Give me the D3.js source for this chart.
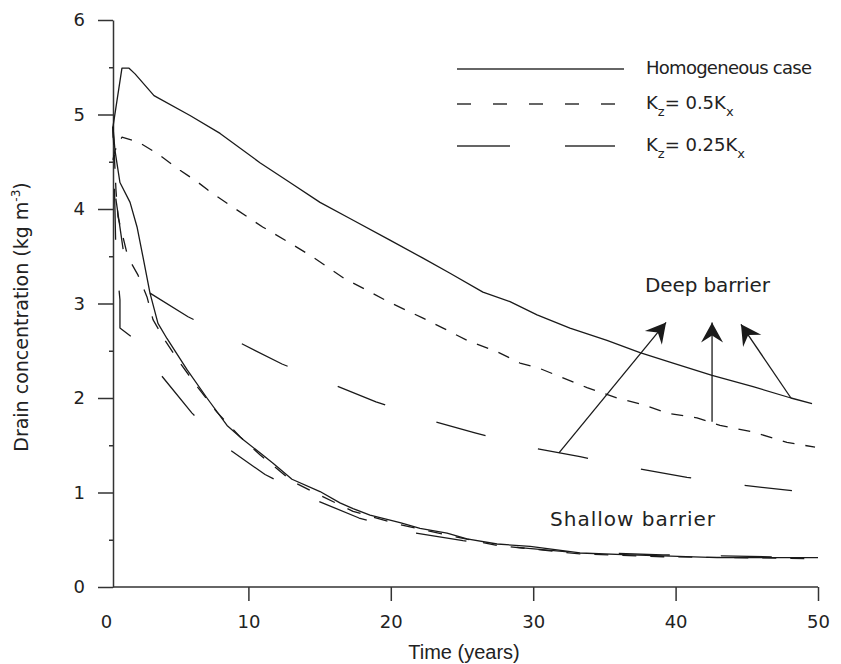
<!DOCTYPE html>
<html>
<head>
<meta charset="utf-8">
<script src="https://cdn.jsdelivr.net/npm/d3@7"></script>
<style>
  body { margin: 0; background: #fff; }
  svg { display: block; }
</style>
</head>
<body>
<div id="chart"></div>
<script>
// time (years), drain concentration (kg m-3)
const deepHomogeneous = [[0.49,4.87],[1.12,5.49],[1.62,5.49],[2.04,5.43],[3.37,5.20],[5.90,4.99],[8.01,4.80],[10.81,4.49],[12.92,4.28],[15.03,4.07],[17.13,3.90],[19.94,3.67],[22.26,3.48],[24.16,3.32],[26.47,3.12],[28.37,3.02],[30.27,2.88],[32.58,2.74],[35.18,2.61],[37.50,2.48],[39.82,2.37],[42.56,2.24],[45.44,2.12],[48.10,2.00],[49.58,1.94]];
const deepHalf = [[0.49,4.52],[0.63,4.62],[1.12,4.76],[2.25,4.71],[3.58,4.59],[5.20,4.41],[6.39,4.29],[7.16,4.20],[8.50,4.06],[11.0,3.81],[12.92,3.64],[14.54,3.49],[16.78,3.26],[18.33,3.14],[19.80,3.02],[22.19,2.85],[23.67,2.74],[25.35,2.61],[27.46,2.49],[29.07,2.37],[30.34,2.32],[33.78,2.11],[35.88,2.00],[37.71,1.93],[39.40,1.84],[41.50,1.79],[43.12,1.71],[45.44,1.64],[47.82,1.53],[49.79,1.48]];
const deepQuarter = [[0.49,4.87],[0.70,4.10],[1.33,3.44],[2.04,3.23],[3.09,3.11],[5.76,2.86],[9.06,2.61],[12.36,2.36],[15.66,2.16],[18.96,1.96],[22.61,1.77],[25.91,1.63],[29.70,1.48],[33.29,1.38],[37.08,1.26],[40.80,1.16],[44.52,1.08],[48.17,1.02]];
const shallowHomogeneous = [[0.49,4.87],[0.63,4.62],[0.98,4.28],[1.69,4.07],[2.18,3.81],[2.60,3.49],[3.09,3.11],[3.65,2.79],[4.28,2.63],[5.69,2.30],[7.09,2.00],[8.50,1.71],[9.62,1.56],[10.81,1.42],[11.73,1.31],[13.06,1.14],[15.03,1.01],[16.43,0.89],[17.35,0.83],[18.54,0.76],[20.65,0.68],[22.05,0.62],[23.95,0.57],[25.35,0.51],[27.46,0.455],[29.78,0.43],[33.29,0.36],[36.80,0.34],[39.12,0.33],[42.91,0.31],[50,0.31]];
const shallowHalf = [[0.49,4.87],[0.70,4.20],[0.84,3.92],[1.54,3.49],[2.25,3.30],[2.88,3.07],[3.30,2.83],[4.14,2.61],[5.20,2.37],[6.46,2.11],[7.79,1.85],[9.41,1.59],[10.81,1.40],[13.06,1.12],[15.03,0.97],[17.35,0.80],[20.65,0.66],[23.95,0.55],[27.46,0.44],[33.29,0.35],[39.12,0.32],[50,0.30]];
const shallowQuarter = [[0.49,4.87],[0.63,3.99],[0.70,3.49],[0.98,3.04],[0.98,2.74],[2.04,2.62],[3.93,2.23],[6.04,1.84],[8.43,1.48],[11.17,1.19],[14.40,0.94],[17.77,0.73],[21.35,0.58],[25.07,0.49],[28.86,0.42],[32.58,0.37],[39.12,0.34],[50,0.31]];

const xTicks = [0, 10, 20, 30, 40, 50];
const yTicks = [0, 1, 2, 3, 4, 5, 6];
const yMinorTicks = [0.5, 1.5, 2.5, 3.5, 4.5, 5.5];

// arrows: [from, to] in data units
const arrows = [
  [[31.81, 1.42], [39.33, 2.80]],
  [[42.56, 1.75], [42.56, 2.80]],
  [[48.10, 2.00], [44.59, 2.78]]
];

const width = 841, height = 664;
const font = "'DejaVu Sans', Verdana, sans-serif";
const ink = "#1a1a1a";

const svg = d3.select("#chart").append("svg")
  .attr("width", width)
  .attr("height", height);

const x = d3.scaleLinear().domain([0, 50]).range([106, 818]);
const y = d3.scaleLinear().domain([0, 6]).range([587, 20]);
const axisX = 113;

const line = d3.line()
  .x(d => x(d[0]))
  .y(d => y(d[1]));

// offset so a dash starts at the given vertex
function dashOffset(data, idx, period) {
  const tmp = svg.append("path").attr("d", line(data.slice(0, idx + 1)));
  const len = tmp.node().getTotalLength();
  tmp.remove();
  return (period - (len % period)) % period;
}

// y axis
svg.append("g")
  .attr("transform", `translate(${axisX},0)`)
  .call(d3.axisLeft(y).tickValues(yTicks).tickFormat(d3.format("d"))
    .tickSize(15).tickPadding(13).tickSizeOuter(0));
svg.append("g")
  .attr("transform", `translate(${axisX},0)`)
  .call(d3.axisLeft(y).tickValues(yMinorTicks).tickSize(4).tickFormat("").tickSizeOuter(0))
  .call(g => g.select(".domain").remove());

// x axis
const xAxis = svg.append("g")
  .attr("transform", `translate(0,${y(0)})`)
  .call(d3.axisBottom(x).tickValues(xTicks).tickFormat(d3.format("d"))
    .tickSize(14).tickPadding(14).tickSizeOuter(0));
xAxis.select(".domain").attr("d", `M${axisX},0H${x(50)}`);
xAxis.selectAll(".tick").filter(d => d === 0).select("line").remove();

svg.selectAll(".domain, .tick line")
  .attr("stroke", "#333")
  .attr("stroke-width", 1.5);
svg.selectAll(".tick text")
  .attr("font-family", font)
  .attr("font-size", 18)
  .attr("fill", "#222");

// curves
const curves = [
  { data: deepHomogeneous, dash: null },
  { data: deepHalf, dash: "12,11" },
  { data: deepQuarter, dash: "51,54", align: 4 },
  { data: shallowHomogeneous, dash: null },
  { data: shallowHalf, dash: "14,14" },
  { data: shallowQuarter, dash: "51,51", align: 6 }
];

curves.forEach(c => {
  const p = svg.append("path")
    .datum(c.data)
    .attr("d", line)
    .attr("fill", "none")
    .attr("stroke", ink)
    .attr("stroke-width", 1.3)
    .attr("stroke-linejoin", "round");
  if (c.dash) {
    p.attr("stroke-dasharray", c.dash);
    if (c.align !== undefined) {
      const period = d3.sum(c.dash.split(",").map(Number));
      p.attr("stroke-dashoffset", dashOffset(c.data, c.align, period));
    }
  }
});

// arrows
svg.append("defs").append("marker")
  .attr("id", "head")
  .attr("markerUnits", "userSpaceOnUse")
  .attr("viewBox", "-22 -13 24 26")
  .attr("markerWidth", 24)
  .attr("markerHeight", 26)
  .attr("refX", 0)
  .attr("refY", 0)
  .attr("orient", "auto")
  .append("path")
  .attr("d", "M0,0L-20,-11L-13,0L-20,11Z")
  .attr("fill", ink);

svg.selectAll(".arrow")
  .data(arrows)
  .enter().append("line")
  .attr("class", "arrow")
  .attr("x1", d => x(d[0][0]))
  .attr("y1", d => y(d[0][1]))
  .attr("x2", d => x(d[1][0]))
  .attr("y2", d => y(d[1][1]))
  .attr("stroke", ink)
  .attr("stroke-width", 1.3)
  .attr("marker-end", "url(#head)");

// annotations
svg.append("text")
  .attr("x", 645).attr("y", 292)
  .attr("font-family", font).attr("font-size", 20).attr("fill", "#222")
  .attr("textLength", 125)
  .text("Deep barrier");
svg.append("text")
  .attr("x", 550).attr("y", 526)
  .attr("font-family", font).attr("font-size", 20).attr("fill", "#222")
  .attr("textLength", 165)
  .text("Shallow barrier");

// legend
const legend = svg.append("g");
const legendRows = [
  { y: 69, dash: null, x2: 624 },
  { y: 104, dash: "14,22", x2: 615 },
  { y: 146, dash: "53,55", x2: 615 }
];
legendRows.forEach(r => {
  legend.append("line")
    .attr("x1", 457).attr("x2", r.x2)
    .attr("y1", r.y).attr("y2", r.y)
    .attr("stroke", "#333")
    .attr("stroke-width", 1.4)
    .attr("stroke-dasharray", r.dash);
});

const legText = (yy) => legend.append("text")
  .attr("x", 646).attr("y", yy)
  .attr("font-family", font).attr("font-size", 18).attr("fill", "#222");

legText(74).attr("textLength", 166).text("Homogeneous case");

[["0.5", 109], ["0.25", 151]].forEach(([k, yy]) => {
  const t = legText(yy);
  t.append("tspan").text("K");
  t.append("tspan").attr("dy", 7).attr("font-size", 13).text("z");
  t.append("tspan").attr("dy", -7).text("= " + k + "K");
  t.append("tspan").attr("dy", 7).attr("font-size", 13).text("x");
});

// axis titles
const yTitle = svg.append("text")
  .attr("transform", "translate(28,317) rotate(-90)")
  .attr("text-anchor", "middle")
  .attr("font-family", font).attr("font-size", 19).attr("fill", "#222");
yTitle.append("tspan").text("Drain concentration (kg m");
yTitle.append("tspan").attr("dy", -8).attr("font-size", 12).text("-3");
yTitle.append("tspan").attr("dy", 8).text(")");

svg.append("text")
  .attr("x", 464).attr("y", 659)
  .attr("text-anchor", "middle")
  .attr("font-family", "'Liberation Sans Narrow', 'Liberation Sans', Arial, sans-serif")
  .attr("font-size", 20).attr("fill", "#222")
  .text("Time (years)");
</script>
</body>
</html>
